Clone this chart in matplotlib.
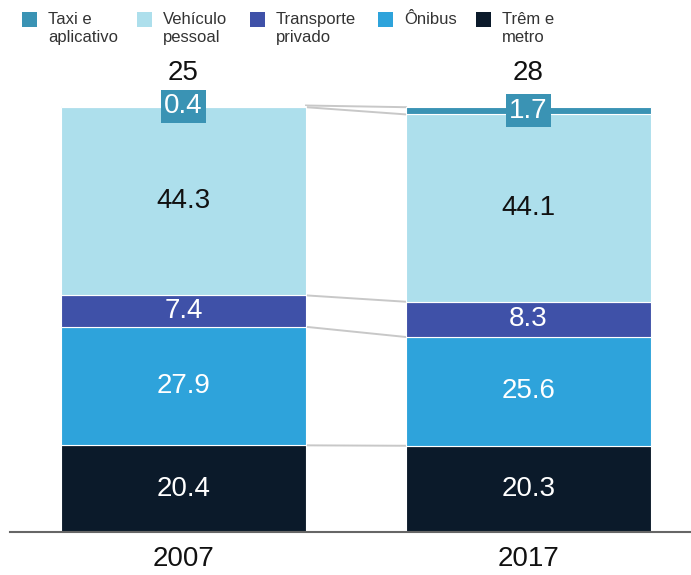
import matplotlib
matplotlib.use('Agg')
import matplotlib.pyplot as plt
from matplotlib.patches import Rectangle
import numpy as np

plt.rcParams['font.family'] = ['Liberation Sans', 'DejaVu Sans']

YEARS = ["2007", "2017"]
TOTALS = [25, 28]
MODES = ["Trêm e\nmetro", "Ônibus", "Transporte\nprivado", "Vehículo\npessoal", "Taxi e\naplicativo"]
TREM = [20.4, 20.3]
ONIBUS = [27.9, 25.6]
PRIVADO = [7.4, 8.3]
PESSOAL = [44.3, 44.1]
TAXI = [0.4, 1.7]

COLORS = ["#0B1A2A", "#2EA3DB", "#3F51A8", "#ADDFEC", "#3A93B4"]
TEXT_COLORS = ["white", "white", "white", "#111111", "white"]

series = [TREM, ONIBUS, PRIVADO, PESSOAL, TAXI]

fig = plt.figure(figsize=(6.91, 5.75), dpi=100)
ax = fig.add_axes([10 / 691, 43 / 575, 681 / 691, 531 / 575])

x = np.arange(len(YEARS))
width = 0.71
bottom = np.zeros(len(YEARS))
bounds = []
for vals, col, tcol in zip(series, COLORS, TEXT_COLORS):
    vals = np.array(vals)
    ax.bar(x, vals, width, bottom=bottom, color=col, edgecolor='white', linewidth=0.8)
    for xi, b, v in zip(x, bottom, vals):
        if col == COLORS[-1]:
            # thin top segment gets its value in a filled box
            ax.text(xi, b + v / 2, f"{v:.1f}", ha='center', va='center', fontsize=20,
                    color='white',
                    bbox=dict(boxstyle='square,pad=0.12', facecolor=col, edgecolor='none'))
        else:
            ax.text(xi, b + v / 2, f"{v:.1f}", ha='center', va='center', fontsize=20,
                    color=tcol)
    bottom = bottom + vals
    bounds.append(bottom.copy())

# connectors between matching segment boundaries
for bnd in bounds:
    ax.plot([x[0] + width / 2, x[1] - width / 2], [bnd[0], bnd[1]],
            color='#C8C8C8', linewidth=1.4, zorder=0)

for xi, tot in zip(x, TOTALS):
    ax.text(xi, 108.0, str(tot), ha='center', va='center', fontsize=20, color='#111111')

ax.set_xlim(-0.503, 1.471)
ax.set_ylim(0, 125)
ax.set_xticks(x)
ax.set_xticklabels(YEARS, fontsize=20, color='#111111')
ax.tick_params(axis='x', length=0, pad=10)
ax.set_yticks([])
for s in ['top', 'right', 'left']:
    ax.spines[s].set_visible(False)
ax.spines['bottom'].set_color('#666666')
ax.spines['bottom'].set_linewidth(1.5)

# legend drawn by hand across the top
leg_order = [4, 3, 2, 1, 0]
sq_x = [22, 137, 250, 378, 476]
for i, px in zip(leg_order, sq_x):
    fig.add_artist(Rectangle((px / 691, 1 - 27 / 575), 15 / 691, 15 / 575,
                             transform=fig.transFigure, facecolor=COLORS[i],
                             edgecolor='none'))
    fig.text((px + 26) / 691, 1 - 12 / 575, MODES[i], ha='left', va='top',
             fontsize=12, color='#333333', linespacing=1.25)

fig.savefig("out.png", dpi=100)
